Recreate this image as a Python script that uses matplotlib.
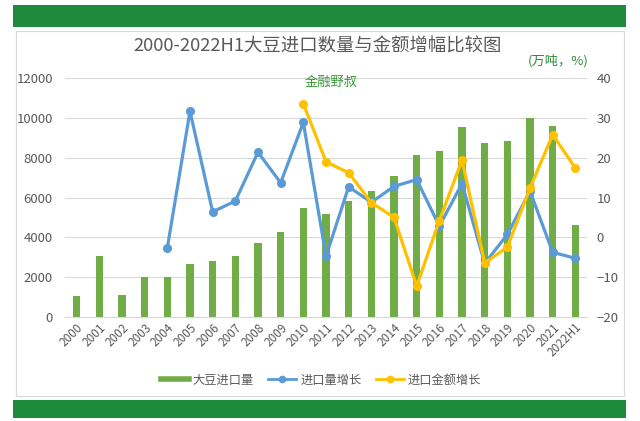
import matplotlib
matplotlib.use("Agg")
import matplotlib.pyplot as plt
from matplotlib.patches import Rectangle
from matplotlib.lines import Line2D
import numpy as np

plt.rcParams['font.family'] = ['Noto Sans CJK SC', 'DejaVu Sans']

categories = ["2000", "2001", "2002", "2003", "2004", "2005", "2006", "2007", "2008",
              "2009", "2010", "2011", "2012", "2013", "2014", "2015", "2016", "2017",
              "2018", "2019", "2020", "2021", "2022H1"]
import_volume = [1042, 3055, 1092, 2015, 2000, 2653, 2820, 3055, 3725, 4245, 5455, 5150,
                 5805, 6325, 7100, 8140, 8360, 9535, 8760, 8830, 10000, 9615, 4615]
volume_growth = [None, None, None, None, -2.7, 31.7, 6.4, 9.1, 21.4, 13.7, 28.9, -4.8,
                 12.7, 8.8, 12.8, 14.5, 2.8, 13.5, -6.6, 0.7, 11.6, -3.8, -5.3]
value_growth = [None] * 10 + [33.6, 19.0, 16.2, 8.7, 5.0, -12.3, 4.2, 19.4, -6.5, -2.5,
                              12.4, 25.8, 17.4]

title = "2000-2022H1大豆进口数量与金额增幅比较图"
unit_label = "(万吨，%)"
watermark = "金融野叔"
legend_labels = ["大豆进口量", "进口量增长", "进口金额增长"]

GREEN_BAR = "#70AD47"
BLUE = "#5B9BD5"
YELLOW = "#FFC000"
BANNER = "#1E8B3C"
GRAY = "#595959"

fig = plt.figure(figsize=(6.4, 4.21), dpi=100)
fig.patch.set_facecolor("white")

# banners
fig.add_artist(Rectangle((13/640, 1-27/421), 613/640, 22/421, transform=fig.transFigure,
                         facecolor=BANNER, edgecolor="none", zorder=-2))
fig.add_artist(Rectangle((13/640, 1-418/421), 613/640, 18/421, transform=fig.transFigure,
                         facecolor=BANNER, edgecolor="none", zorder=-2))
# chart panel border
fig.add_artist(Rectangle((16/640, 1-396/421), 608/640, 365/421, transform=fig.transFigure,
                         facecolor="white", edgecolor="#D9D9D9", linewidth=0.8, zorder=-2))

ax = fig.add_axes([65.3/640, 1-316.7/421, (586.7-65.3)/640, (316.7-78.3)/421])
ax.patch.set_alpha(0)
x = np.arange(len(categories))
ax.bar(x, import_volume, width=0.32, color=GREEN_BAR, zorder=2)
ax.set_xlim(-0.5, len(categories)-0.5)
ax.set_ylim(0, 12000)
ax.set_yticks(np.arange(0, 12001, 2000))
ax.grid(axis="y", color="#D9D9D9", linewidth=0.8, zorder=0)
ax.set_axisbelow(True)
for s in ["top", "right", "left"]:
    ax.spines[s].set_visible(False)
ax.spines["bottom"].set_color("#D9D9D9")
ax.tick_params(axis="y", length=0, labelsize=9.5, labelcolor=GRAY, pad=9)
ax.tick_params(axis="x", length=0, labelsize=8.5, labelcolor=GRAY, pad=3)
ax.set_xticks(x)
ax.set_xticklabels(categories, rotation=45, ha="right", rotation_mode="anchor")

ax2 = ax.twinx()
ax2.set_ylim(-20, 40)
ax2.set_yticks(np.arange(-20, 41, 10))
for s in ["top", "right", "left", "bottom"]:
    ax2.spines[s].set_visible(False)
ax2.tick_params(axis="y", length=0, labelsize=9.5, labelcolor=GRAY, pad=7)

vx = [i for i, v in enumerate(volume_growth) if v is not None]
vy = [v for v in volume_growth if v is not None]
gx = [i for i, v in enumerate(value_growth) if v is not None]
gy = [v for v in value_growth if v is not None]
ax2.plot(vx, vy, color=BLUE, linewidth=2.3, marker="o", markersize=5.5, zorder=3)
ax2.plot(gx, gy, color=YELLOW, linewidth=2.3, marker="o", markersize=5.5, zorder=4)

fig.text(318/640, 1-47/421, title, ha="center", va="center", fontsize=13.2, color=GRAY)
fig.text(558/640, 1-61/421, unit_label, ha="center", va="center", fontsize=9.5, color="#2E8B3C")
fig.text(331/640, 1-82/421, watermark, ha="center", va="center", fontsize=9.5, color="#3A9A3A")

handles = [Line2D([0], [0], color=GREEN_BAR, linewidth=4),
           Line2D([0], [0], color=BLUE, linewidth=2, marker="o", markersize=4.5),
           Line2D([0], [0], color=YELLOW, linewidth=2, marker="o", markersize=4.5)]
fig.legend(handles, legend_labels, loc="center", bbox_to_anchor=(321/640, 1-380/421),
           ncol=3, frameon=False, fontsize=8.8, labelcolor=GRAY, handlelength=2.3,
           columnspacing=1.2, handletextpad=0.3)

fig.savefig("out.png", dpi=100, facecolor="white")
